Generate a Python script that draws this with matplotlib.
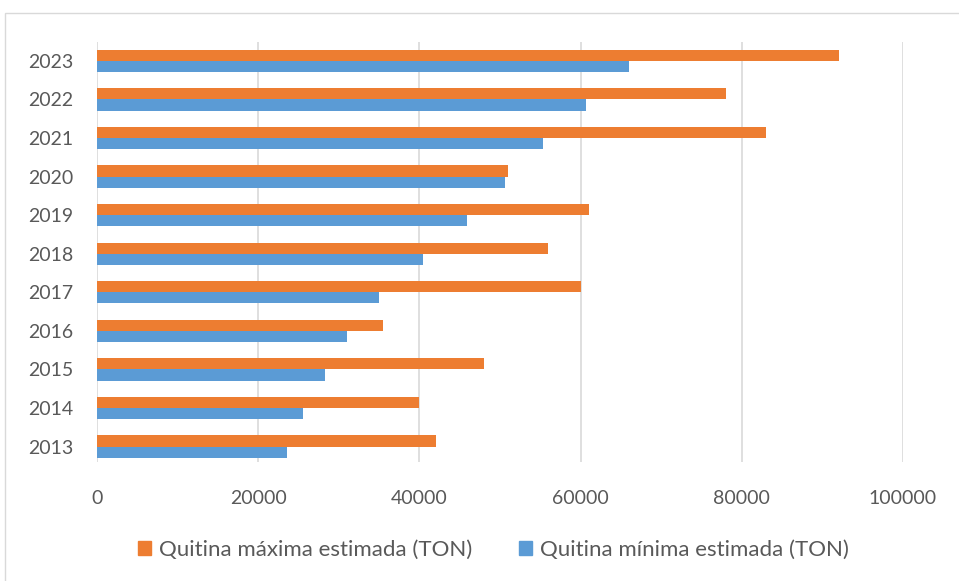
import matplotlib
matplotlib.use("Agg")
import matplotlib.pyplot as plt
from matplotlib.patches import Rectangle, Patch
import numpy as np

years = ["2013", "2014", "2015", "2016", "2017", "2018", "2019", "2020", "2021", "2022", "2023"]
quitina_max = [42000, 40000, 48000, 35500, 60000, 56000, 61000, 51000, 83000, 78000, 92000]
quitina_min = [23600, 25600, 28300, 31000, 35000, 40500, 45900, 50600, 55300, 60700, 66000]
series_names = ["Quitina máxima estimada (TON)", "Quitina mínima estimada (TON)"]
xticks = [0, 20000, 40000, 60000, 80000, 100000]

plt.rcParams['font.family'] = ['Lato', 'DejaVu Sans']
grey = '#595959'
orange = '#ED7D31'
blue = '#5B9BD5'

fig = plt.figure(figsize=(9.59, 5.81), dpi=100)
ax = fig.add_axes([97/959, 1-462/581, (903-97)/959, (462-42)/581])

y = np.arange(len(years))
h = 0.29
ax.barh(y + h/2, quitina_max, height=h, color=orange, label=series_names[0], zorder=3)
ax.barh(y - h/2, quitina_min, height=h, color=blue, label=series_names[1], zorder=3)

ax.set_xlim(0, 100000)
ax.set_ylim(-0.40, len(years) - 1 + 0.49)
ax.set_xticks(xticks)
ax.set_xticklabels([str(t) for t in xticks])
ax.set_yticks(y)
ax.set_yticklabels(years)
ax.tick_params(axis='x', length=0, pad=20, labelsize=14, labelcolor=grey)
ax.tick_params(axis='y', length=0, pad=17, labelsize=14, labelcolor=grey)
ax.grid(axis='x', color='#d9d9d9', linewidth=1.2, zorder=0)
for s in ax.spines.values():
    s.set_visible(False)

handles = [Patch(color=orange), Patch(color=blue)]
fig.legend(handles, series_names, loc='center', bbox_to_anchor=(493.5/959, 1-550/581),
           ncol=2, frameon=False, fontsize=16, labelcolor=grey,
           handlelength=0.6, handleheight=0.6, handletextpad=0.35, columnspacing=2.1)

fig.patches.append(Rectangle((5/959, -0.05), 1.1, 1 - 13/581 + 0.05, transform=fig.transFigure,
                             fill=False, edgecolor='#d9d9d9', linewidth=1, zorder=0))

fig.savefig("out.png", dpi=100)
